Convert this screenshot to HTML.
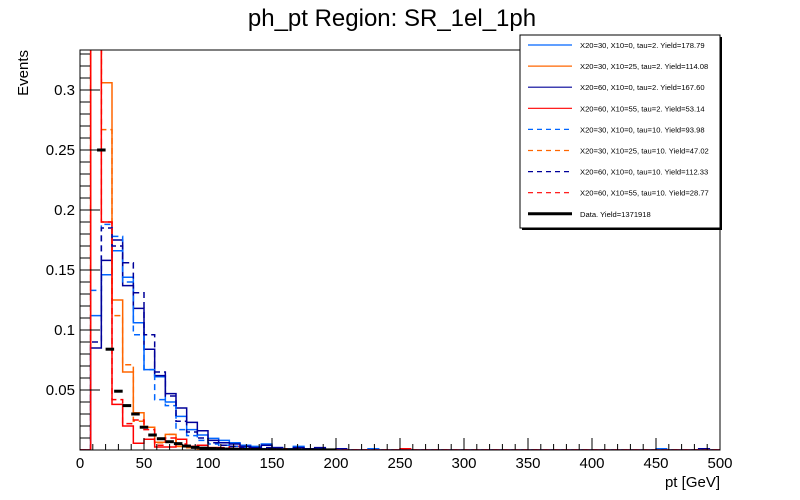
<!DOCTYPE html>
<html><head><meta charset="utf-8"><style>
body{margin:0;background:#fff;}
svg{display:block;font-family:"Liberation Sans",Arial,sans-serif;}
</style></head><body>
<svg id="chart" width="800" height="500" viewBox="0 0 800 500">
<defs><clipPath id="clip"><rect x="80" y="50" width="640" height="400"/></clipPath></defs>
<rect x="0" y="0" width="800" height="500" fill="#fff"/>
<text x="392" y="26" text-anchor="middle" font-size="24">ph_pt Region: SR_1el_1ph</text>
<g id="series" clip-path="url(#clip)"></g>
<g id="axes"></g>
<rect x="80" y="50" width="640" height="400" fill="none" stroke="#000" stroke-width="1"/>
<text x="720" y="487" text-anchor="end" font-size="15">pt [GeV]</text>
<text transform="translate(28,50) rotate(-90)" text-anchor="end" font-size="15">Events</text>
<g id="legend">
<rect x="522" y="37" width="200" height="193" fill="#000"/>
<rect x="520" y="35" width="200" height="193" fill="#fff" stroke="#000" stroke-width="1"/>
</g>
</svg>
<script>
const sampleBinWidth = 500/60;
const dataBinWidth = 500/75;
const blueS   = [0,0.112,0.146,0.166,0.144,0.106,0.067,0.061,0.040,0.028,0.017,0.0125,0.0097,0.008,0.006,0.004,0.003,0.005,0.002,0.001,0.003,0,0.001,0,0.001,0,0,0.001,0,0,0,0,0,0,0,0,0,0,0,0,0,0,0,0,0,0,0,0,0,0,0,0,0,0,0.001,0,0,0,0,0];
const orangeS = [0,0.45,0.306,0.125,0.065,0.031,0.019,0.0065,0.013,0.003,0.002,0.001,0.002,0,0.001,0,0,0,0,0,0,0,0,0,0,0,0,0,0,0,0,0,0,0,0,0,0,0,0,0,0,0,0,0,0,0,0,0,0,0,0,0,0,0,0,0,0,0,0,0];
const navyS   = [0,0.085,0.158,0.175,0.137,0.118,0.084,0.062,0.047,0.035,0.023,0.016,0.008,0.006,0.005,0.003,0.002,0.004,0.002,0.001,0.002,0.001,0.002,0,0.001,0,0,0,0,0,0,0,0,0,0,0,0,0,0,0,0,0,0,0,0,0,0,0,0,0,0,0,0,0,0,0,0,0,0.001,0];
const redS    = [0,0.5,0.190,0.038,0.020,0.0056,0.009,0.0025,0.0025,0.009,0.003,0.004,0.002,0.001,0.003,0.001,0,0.001,0,0.001,0,0,0,0,0,0,0,0,0,0,0.001,0,0,0,0,0,0,0,0,0,0,0,0,0,0,0,0,0,0,0,0,0,0,0,0,0,0,0,0,0];
const blueD   = [0,0.133,0.188,0.178,0.140,0.096,0.067,0.042,0.037,0.017,0.012,0.008,0.005,0.004,0.003,0.002,0.001,0.001,0,0.001,0,0,0,0,0,0,0,0,0,0,0,0,0,0,0,0,0,0,0,0,0,0,0,0,0,0,0,0,0,0,0,0,0,0,0,0,0,0,0,0];
const orangeD = [0,0.45,0.267,0.112,0.071,0.024,0.019,0.006,0.013,0.003,0.002,0.001,0,0.001,0,0,0,0,0,0,0,0,0,0,0,0,0,0,0,0,0,0,0,0,0,0,0,0,0,0,0,0,0,0,0,0,0,0,0,0,0,0,0,0,0,0,0,0,0,0];
const navyD   = [0,0.09,0.185,0.170,0.156,0.131,0.096,0.065,0.045,0.024,0.015,0.010,0.006,0.004,0.003,0.002,0.001,0.002,0.001,0,0.001,0,0,0,0,0,0,0,0,0,0,0,0,0,0,0,0,0,0,0,0,0,0,0,0,0,0,0,0,0,0,0,0,0,0,0,0,0,0,0];
const redD    = [0,0.5,0.19,0.042,0.022,0.025,0.017,0.004,0.010,0.005,0.003,0.002,0.001,0.002,0,0.001,0,0,0,0,0,0,0,0,0,0,0,0,0,0,0,0,0,0,0,0,0,0,0,0,0,0,0,0,0,0,0,0,0,0,0,0,0,0,0,0,0,0,0,0];
const dataVals = [0,0,0.25,0.084,0.049,0.037,0.030,0.019,0.0125,0.0094,0.0069,0.0053,0.0033,0.0022,0.0015,0.0012,0.001,0.0008,0.0006,0.0005,0.0004,0.0003,0.0003,0.0002,0.0002,0.0002,0.0001,0.0001,0.0001,0.0001];
const seriesNames = ["X20=30, X10=0, tau=2. Yield=178.79","X20=30, X10=25, tau=2. Yield=114.08","X20=60, X10=0, tau=2. Yield=167.60","X20=60, X10=55, tau=2. Yield=53.14","X20=30, X10=0, tau=10. Yield=93.98","X20=30, X10=25, tau=10. Yield=47.02","X20=60, X10=0, tau=10. Yield=112.33","X20=60, X10=55, tau=10. Yield=28.77"];
const dataName = "Data. Yield=1371918";
const xTicks = [0,50,100,150,200,250,300,350,400,450,500];
const yTicks = [0.05,0.1,0.15,0.2,0.25,0.3];
const yTickLabels = ["0.05","0.1","0.15","0.2","0.25","0.3"];

const NS="http://www.w3.org/2000/svg";
const X0=80,X1=720,Y0=450,Y1=50,XMAX=500,YMAX=400/1200;
function xs(v){return X0+(v/XMAX)*(X1-X0);}
function ys(v){return Y0-(v/YMAX)*(Y0-Y1);}
function mk(tag,attrs,parent){const e=document.createElementNS(NS,tag);for(const k in attrs)e.setAttribute(k,attrs[k]);parent.appendChild(e);return e;}

const series=document.getElementById('series');
const allSeries=[blueS,orangeS,navyS,redS,blueD,orangeD,navyD,redD];
const colors=["#0066ff","#ff6600","#000099","#ff0000","#0066ff","#ff6600","#000099","#ff0000"];
const dashed=[false,false,false,false,true,true,true,true];
allSeries.forEach((vals,i)=>{
  let d="M"+xs(0)+","+ys(0);
  vals.forEach((v,b)=>{d+=" L"+xs(b*sampleBinWidth)+","+ys(v)+" L"+xs((b+1)*sampleBinWidth)+","+ys(v);});
  const p=mk('path',{d:d,fill:"none",stroke:colors[i],"stroke-width":1.5},series);
  if(dashed[i])p.setAttribute('stroke-dasharray','6,4');
  
  
});
dataVals.forEach((v,b)=>{
  if(v<=0)return;
  const l=mk('line',{x1:xs(b*dataBinWidth),x2:xs((b+1)*dataBinWidth),y1:ys(v),y2:ys(v),stroke:"#000","stroke-width":3},series);
  
  
});

const axes=document.getElementById('axes');
for(let v=0;v<=500;v+=10){
  const major=v%50===0;
  const t=mk('line',{x1:xs(v),x2:xs(v),y1:Y0,y2:Y0-(major?12:6),stroke:"#000","stroke-width":1},axes);
  
  
}
xTicks.forEach(v=>{
  const t=mk('text',{x:xs(v),y:468,"text-anchor":"middle","font-size":15},axes);
  t.textContent=String(v);
  
  
});
for(let k=1;k<=33;k++){
  const v=k*0.01;
  const major=k%5===0;
  const t=mk('line',{x1:X0,x2:X0+(major?20:10),y1:ys(v),y2:ys(v),stroke:"#000","stroke-width":1},axes);
  
  
}
yTicks.forEach((v,i)=>{
  const t=mk('text',{x:75,y:ys(v)+5,"text-anchor":"end","font-size":15},axes);
  t.textContent=yTickLabels[i];
  
  
});

const legend=document.getElementById('legend');
seriesNames.forEach((name,i)=>{
  const y=45+i*21.1;
  const l=mk('line',{x1:528,x2:572,y1:y,y2:y,stroke:colors[i],"stroke-width":1.2},legend);
  if(dashed[i])l.setAttribute('stroke-dasharray','5,4');
  
  
  const t=mk('text',{x:580,y:y+3,"font-size":7.6},legend);
  t.textContent=name;
  
  
});
{
  const y=45+8*21.1;
  const l=mk('line',{x1:528,x2:572,y1:y,y2:y,stroke:"#000","stroke-width":3},legend);
  
  
  const t=mk('text',{x:580,y:y+3,"font-size":7.6},legend);
  t.textContent=dataName;
  
  
}
</script>
</body></html>
